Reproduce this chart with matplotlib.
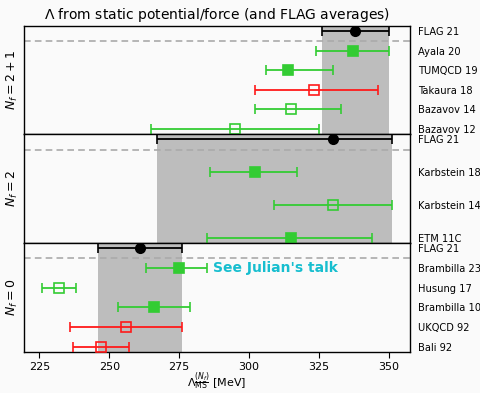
import matplotlib
matplotlib.use("Agg")
import matplotlib.pyplot as plt

plt.rcParams['font.family'] = ['DejaVu Sans']
plt.rcParams['mathtext.fontset'] = 'dejavusans'

# ---- data ----
labels_21 = ["FLAG 21", "Ayala 20", "TUMQCD 19", "Takaura 18", "Bazavov 14", "Bazavov 12"]
val_21 = [338, 337, 314, 323, 315, 295]
lo_21 = [326, 324, 306, 302, 302, 265]
hi_21 = [350, 350, 330, 346, 333, 325]
col_21 = ["black", "green", "green", "red", "green", "green"]
fill_21 = [True, True, True, False, False, False]

labels_2 = ["FLAG 21", "Karbstein 18", "Karbstein 14", "ETM 11C"]
val_2 = [330, 302, 330, 315]
lo_2 = [267, 286, 309, 285]
hi_2 = [351, 317, 351, 344]
col_2 = ["black", "green", "green", "green"]
fill_2 = [True, True, False, True]

labels_0 = ["FLAG 21", "Brambilla 23", "Husung 17", "Brambilla 10", "UKQCD 92", "Bali 92"]
val_0 = [261, 275, 232, 266, 256, 247]
lo_0 = [246, 263, 226, 253, 236, 237]
hi_0 = [276, 285, 238, 279, 276, 257]
col_0 = ["black", "green", "green", "green", "red", "red"]
fill_0 = [True, True, False, True, False, False]

panels = [
    (labels_21, val_21, lo_21, hi_21, col_21, fill_21, r"$N_f = 2+1$"),
    (labels_2, val_2, lo_2, hi_2, col_2, fill_2, r"$N_f = 2$"),
    (labels_0, val_0, lo_0, hi_0, col_0, fill_0, r"$N_f = 0$"),
]

colmap = {"black": "black", "green": "#33cc33", "red": "#ff1a1a"}
bg = "#fafafa"

fig = plt.figure(figsize=(4.81, 3.93), dpi=100, facecolor=bg)
left, right = 24 / 481, 410 / 481
edges = [26, 134, 243, 352]
margins = [0.25, 0.14, 0.25]
dash_pos = [0.5, 0.33, 0.5]

axes = []
for i, (labs, vals, los, his, cols, fills, ylab) in enumerate(panels):
    top = 1 - edges[i] / 393
    bot = 1 - edges[i + 1] / 393
    ax = fig.add_axes([left, bot, right - left, top - bot],
                      sharex=axes[0] if axes else None)
    ax.set_facecolor(bg)
    axes.append(ax)
    n = len(labs)
    ys = list(range(n))
    # FLAG band
    ax.axvspan(los[0], his[0], color="#bdbdbd", lw=0, zorder=0)
    ax.axhline(dash_pos[i], color="#aaaaaa", ls=(0, (4, 2.5)), lw=1.2, zorder=1)
    for y, v, l, h, c, f in zip(ys, vals, los, his, cols, fills):
        cc = colmap[c]
        mk = "o" if c == "black" else "s"
        ax.errorbar([v], [y], xerr=[[v - l], [h - v]], fmt=mk, color=cc,
                    ms=6.8, mfc=cc if f else "none", mec=cc, mew=1.2,
                    elinewidth=1.3, capsize=3.5, capthick=1.3, zorder=3)
    ax.set_ylim(n - 1 + margins[i], -margins[i])
    ax.set_yticks(ys)
    ax.set_yticklabels(labs, fontsize=7.1)
    ax.tick_params(axis="y", left=False, right=False, labelleft=False,
                   labelright=True, pad=2)
    ax.set_ylabel(ylab, fontsize=9, labelpad=3)
    for s in ax.spines.values():
        s.set_linewidth(1.0)
    if i < 2:
        ax.tick_params(axis="x", bottom=False, labelbottom=False)

ax0 = axes[-1]
ax0.set_xlim(219.5, 357.5)
ax0.set_xticks([225, 250, 275, 300, 325, 350])
ax0.tick_params(axis="x", labelsize=8, length=4, pad=3)
ax0.set_xlabel(r"$\Lambda_{\overline{\mathrm{MS}}}^{(N_f)}$ [MeV]", fontsize=8, labelpad=-1)

ax0.text(287, 1.0, "See Julian's talk", color="#17becf", fontsize=10,
         fontweight="bold", va="center", ha="left")

axes[0].set_title(r"$\Lambda$ from static potential/force (and FLAG averages)",
                  fontsize=10, pad=5)

fig.savefig("out.png", dpi=100, facecolor=bg)
